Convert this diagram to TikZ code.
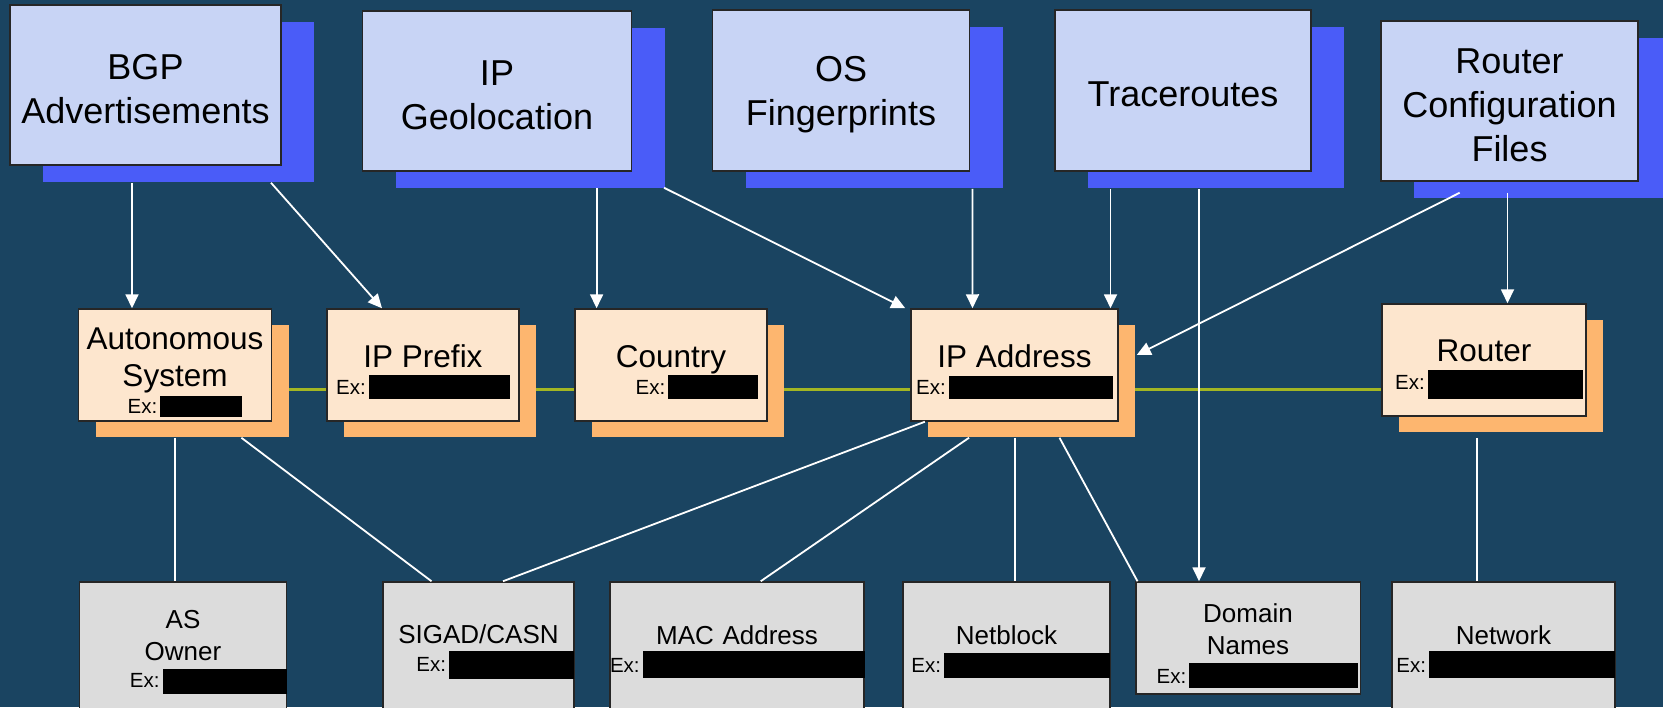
\documentclass[tikz,border=0pt]{standalone}
\usepackage{fontspec}
\setmainfont{Liberation Sans}
\usetikzlibrary{shadows,arrows.meta}

\definecolor{bgblue}{HTML}{1A4461}
\definecolor{srcfill}{HTML}{C8D4F5}
\definecolor{srcshade}{HTML}{4A5CF8}
\definecolor{entfill}{HTML}{FDE6CE}
\definecolor{entshade}{HTML}{FDB66F}
\definecolor{attrfill}{HTML}{DCDCDC}
\definecolor{buscolor}{HTML}{A3B623}

\pgfdeclarelayer{back}
\pgfsetlayers{back,main}

\newcommand{\blackout}[3]{\rule[-#3pt]{#1pt}{#2pt}}
\newcommand{\lift}[1]{\rule{0pt}{#1pt}}
\newcommand{\exlabel}{{\fontsize{20.5}{24}\selectfont Ex:}\kern3pt}

\tikzset{
    srcbox/.style={rectangle, draw=black!85, line width=1.5pt, fill=srcfill, inner sep=0pt,
        align=center, font=\fontsize{36}{44}\selectfont,
        drop shadow={shadow xshift=33pt, shadow yshift=-17pt, fill=srcshade, opacity=1}},
    entbox/.style={rectangle, draw=black!85, line width=1.5pt, fill=entfill, inner sep=0pt,
        align=center, minimum height=112pt, font=\fontsize{31.5}{37}\selectfont,
        drop shadow={shadow xshift=17pt, shadow yshift=-16pt, fill=entshade, opacity=1}},
    attrbox/.style={rectangle, draw=black!85, line width=1.5pt, fill=attrfill, inner sep=0pt,
        align=center, minimum height=140pt, font=\fontsize{26}{32}\selectfont},
    link/.style={draw=white, line width=1.8pt},
    feed/.style={link, -{Triangle[width=13pt,length=14pt]}},
    bus/.style={draw=buscolor, line width=3pt}
}

\begin{document}
\begin{tikzpicture}[x=1pt,y=-1pt]
        \useasboundingbox (0,0) rectangle (1663,707);
        \begin{pgfonlayer}{back}
            \fill[bgblue] (0,0) rectangle (1663,707);
        \end{pgfonlayer}

        % data sources
        \node[srcbox, minimum width=271pt, minimum height=160pt] (bgp) at (145.5,85) {\lift{33}BGP\\Advertisements};
        \node[srcbox, minimum width=269pt, minimum height=160pt] (geo) at (497,91) {\lift{33}IP\\Geolocation};
        \node[srcbox, minimum width=257pt, minimum height=161pt] (osfp) at (841,90.5) {\lift{33}OS\\Fingerprints};
        \node[srcbox, minimum width=256pt, minimum height=161pt] (trace) at (1183,90.5) {\lift{33}Traceroutes};
        \node[srcbox, minimum width=257pt, minimum height=160pt] (rcfg) at (1509.5,101) {\lift{33}Router\\Configuration\\Files};

        % entities
        \node[entbox, minimum width=193pt] (as) at (175,365) {\lift{36}Autonomous\\System\\[-10pt]\hspace*{20pt}\exlabel\blackout{82}{21}{4}};
        \node[entbox, minimum width=192pt] (prefix) at (423,365) {\lift{36}IP Prefix\\[-10pt]\exlabel\blackout{141}{24}{5}};
        \node[entbox, minimum width=192pt] (country) at (671,365) {\lift{36}Country\\[-10pt]\hspace*{52pt}\exlabel\blackout{90}{24}{5}};
        \node[entbox, minimum width=207pt] (ipaddr) at (1014.5,365) {\lift{36}IP Address\\[-10pt]\exlabel\blackout{164}{23}{4}};
        \node[entbox, minimum width=204pt] (router) at (1484,360) {\lift{40}Router\\[-9pt]\hspace*{10pt}\exlabel\blackout{155}{29}{10}};

        % attributes
        \node[attrbox, text width=207pt] (asowner) at (183,652) {AS\\Owner\\[-5pt]\hspace*{\fill}\exlabel\blackout{124}{25}{7}};
        \node[attrbox, text width=191pt] (sigad) at (478.5,652) {SIGAD/CASN\\[-4pt]\hspace*{\fill}\exlabel\blackout{125}{28}{7}};
        \node[attrbox, text width=254pt] (mac) at (737,652) {MAC Address\\[-4pt]\hspace*{\fill}\exlabel\blackout{222}{27}{6}};
        \node[attrbox, text width=207pt] (netblock) at (1006.5,652) {Netblock\\[-4pt]\hspace*{\fill}\exlabel\blackout{166}{25}{6}};
        \node[attrbox, text width=224.5pt, minimum height=112pt] (domain) at (1248,638) {\lift{34}Domain\\Names\\[-3pt]\hspace*{\fill}\exlabel\blackout{169}{25}{4}\kern2pt};
        \node[attrbox, text width=223pt] (network) at (1503.5,652) {Network\\[-4pt]\hspace*{\fill}\exlabel\blackout{186}{27}{6}};

        \begin{pgfonlayer}{back}
            \draw[bus] ([yshift=-24pt]as.east) -- ([yshift=-29pt]router.west);
        \end{pgfonlayer}

        % sources feed entities
        \draw[feed] ([xshift=-13.5pt,yshift=-17pt]bgp.south) -- ([xshift=-43pt]as.north);
        \draw[feed] ([xshift=125.5pt,yshift=-17pt]bgp.south) -- ([xshift=-41pt]prefix.north);
        \draw[feed] ([xshift=99.6pt,yshift=-16pt]geo.south) -- ([xshift=-74.4pt]country.north);
        \draw[feed] ([xshift=167pt,yshift=-16pt]geo.south) -- ([xshift=-5pt]ipaddr.north west);
        \draw[feed] ([xshift=131.4pt,yshift=-17pt]osfp.south) -- ([xshift=-42pt]ipaddr.north);
        \draw[feed] ([xshift=-72.5pt,yshift=-17pt]trace.south) -- ([xshift=96pt]ipaddr.north);
        \draw[feed] ([xshift=16pt,yshift=-17pt]trace.south) -- ([xshift=-49pt]domain.north);
        \draw[feed] ([xshift=-49.8pt,yshift=-11pt]rcfg.south) -- ([xshift=18pt,yshift=10pt]ipaddr.east);
        \draw[feed] ([xshift=-2pt,yshift=-11pt]rcfg.south) -- ([xshift=23.5pt]router.north);

        % entities to attributes
        \draw[link] ([yshift=-16pt]as.south) -- ([xshift=-8pt]asowner.north);
        \draw[link] ([xshift=66.4pt,yshift=-16pt]as.south) -- ([xshift=-47pt]sigad.north);
        \draw[link] ([xshift=14.6pt]ipaddr.south west) -- ([xshift=24.5pt]sigad.north);
        \draw[link] ([xshift=-45.5pt,yshift=-16pt]ipaddr.south) -- ([xshift=23.7pt]mac.north);
        \draw[link] ([xshift=0.5pt,yshift=-16pt]ipaddr.south) -- ([xshift=8.5pt]netblock.north);
        \draw[link] ([xshift=45pt,yshift=-16pt]ipaddr.south) -- ([xshift=2.5pt]domain.north west);
        \draw[link] ([xshift=-7pt,yshift=-21pt]router.south) -- ([xshift=-26.5pt]network.north);
    \end{tikzpicture}
\end{document}
